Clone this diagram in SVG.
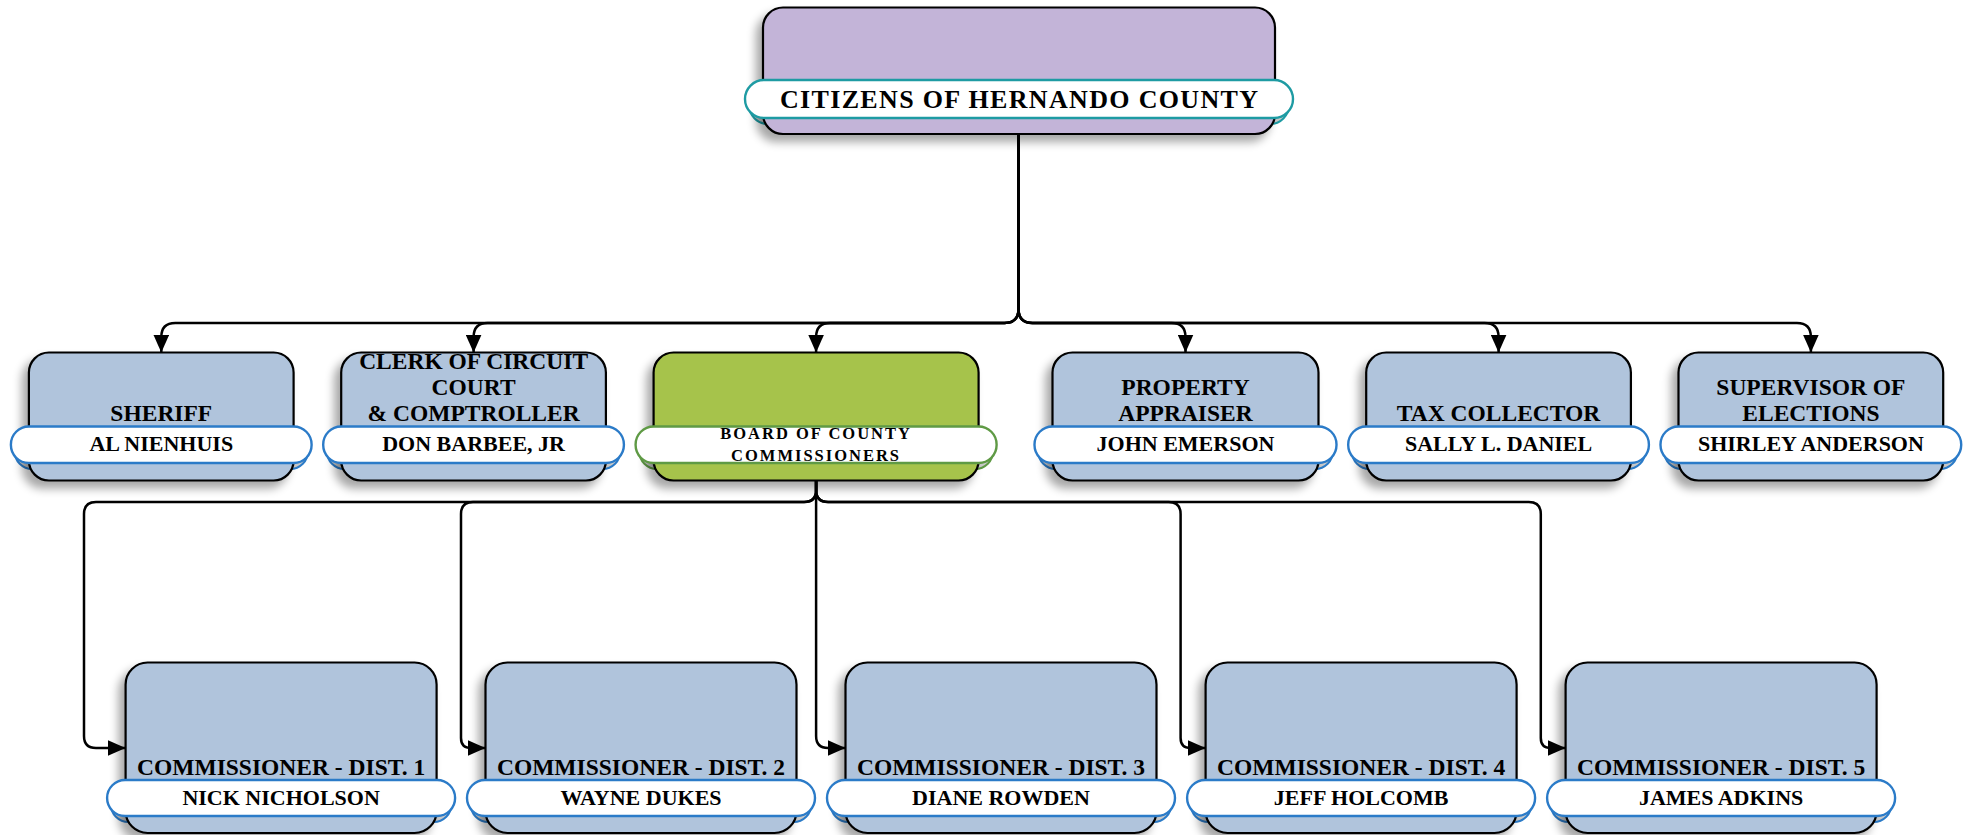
<svg xmlns="http://www.w3.org/2000/svg" width="1967" height="835" viewBox="0 0 1967 835">
<defs>
<style>
.box{stroke:#000;stroke-width:2.2}
.blue{fill:#b0c4dc}
.purple{fill:#c3b4d8}
.green{fill:#a6c34b}
.pill{fill:#fff;stroke-width:2.4}
.back{fill:#c9c9c9;stroke-width:2}
.pb{stroke:#2b7bc8}
.pt{stroke:#1e9ba3}
.pg{stroke:#5f9a45}
text{font-family:"Liberation Serif","DejaVu Serif",serif;font-weight:bold;fill:#000;text-anchor:middle}
.t{font-size:23.5px}
.n{font-size:22px}
.top{font-size:26px}
.bd{font-size:16.5px;letter-spacing:2px}
.conn{fill:none;stroke:#000;stroke-width:2.5}
</style>
<filter id="sh" x="-20%" y="-20%" width="140%" height="150%">
<feGaussianBlur in="SourceAlpha" stdDeviation="5"/>
<feOffset dx="-6" dy="7" result="b"/>
<feComponentTransfer><feFuncA type="linear" slope="0.35"/></feComponentTransfer>
<feMerge><feMergeNode/><feMergeNode in="SourceGraphic"/></feMerge>
</filter>
<marker id="arr" markerUnits="userSpaceOnUse" markerWidth="18" markerHeight="16" refX="18" refY="8" orient="auto">
<path d="M0,0 L18,8 L0,16 Z" fill="#000"/>
</marker>
</defs>

<g id="connectors">
<path class="conn" marker-end="url(#arr)" d="M1018.5,134 V309 Q1018.5,323 1004.5,323 H175.3 Q161.3,323 161.3,337 V352.5"/>
<path class="conn" marker-end="url(#arr)" d="M1018.5,134 V309 Q1018.5,323 1004.5,323 H487.6 Q473.6,323 473.6,337 V352.5"/>
<path class="conn" marker-end="url(#arr)" d="M1018.5,134 V309 Q1018.5,323 1004.5,323 H830.1 Q816.1,323 816.1,337 V352.5"/>
<path class="conn" marker-end="url(#arr)" d="M1018.5,134 V309 Q1018.5,323 1032.5,323 H1171.5 Q1185.5,323 1185.5,337 V352.5"/>
<path class="conn" marker-end="url(#arr)" d="M1018.5,134 V309 Q1018.5,323 1032.5,323 H1484.6 Q1498.6,323 1498.6,337 V352.5"/>
<path class="conn" marker-end="url(#arr)" d="M1018.5,134 V309 Q1018.5,323 1032.5,323 H1796.9 Q1810.9,323 1810.9,337 V352.5"/>

<path class="conn" marker-end="url(#arr)" d="M816.1,480.5 V490 Q816.1,502 804.1,502 H96 Q84,502 84,514 V736 Q84,748 96,748 H125.6"/>
<path class="conn" marker-end="url(#arr)" d="M816.1,480.5 V490 Q816.1,502 804.1,502 H473 Q461,502 461,514 V738 Q461,748 471,748 H485.5"/>
<path class="conn" marker-end="url(#arr)" d="M816.1,480.5 V736 Q816.1,748 828.1,748 H845.5"/>
<path class="conn" marker-end="url(#arr)" d="M816.1,480.5 V490 Q816.1,502 828.1,502 H1168.6 Q1180.6,502 1180.6,514 V738 Q1180.6,748 1190.6,748 H1205.6"/>
<path class="conn" marker-end="url(#arr)" d="M816.1,480.5 V490 Q816.1,502 828.1,502 H1528.8 Q1540.8,502 1540.8,514 V738 Q1540.8,748 1550.8,748 H1565.6"/>
</g>

<g id="citizens">
<rect class="back pt" x="749" y="86" width="540" height="38" rx="19"/>
<rect class="box purple" filter="url(#sh)" x="763" y="7.5" width="512" height="126.5" rx="20"/>
<rect class="pill pt" x="745" y="80" width="548" height="38" rx="19"/>
<text class="top" x="1019" y="108" textLength="478" lengthAdjust="spacing">CITIZENS OF HERNANDO COUNTY</text>
</g>

<g id="sheriff">
<rect class="back pb" x="14.4" y="432.5" width="293.7" height="36.5" rx="18"/>
<rect class="box blue" filter="url(#sh)" x="28.9" y="352.5" width="264.7" height="128" rx="20"/>
<rect class="pill pb" x="10.9" y="426.5" width="300.7" height="36.5" rx="18"/>
<text class="t" x="161.3" y="420.7">SHERIFF</text>
<text class="n" x="161.3" y="451">AL NIENHUIS</text>
</g>

<g id="clerk">
<rect class="back pb" x="326.7" y="432.5" width="293.7" height="36.5" rx="18"/>
<rect class="box blue" filter="url(#sh)" x="341.2" y="352.5" width="264.7" height="128" rx="20"/>
<rect class="pill pb" x="323.2" y="426.5" width="300.7" height="36.5" rx="18"/>
<text class="t" x="473.6" y="369.3">CLERK OF CIRCUIT</text>
<text class="t" x="473.6" y="395">COURT</text>
<text class="t" x="473.6" y="420.7">&amp; COMPTROLLER</text>
<text class="n" x="473.6" y="451">DON BARBEE, JR</text>
</g>

<g id="board">
<rect class="back pg" x="639.1" y="432.5" width="354" height="36.5" rx="18"/>
<rect class="box green" filter="url(#sh)" x="653.6" y="352.5" width="325" height="128" rx="20"/>
<rect class="pill pg" x="635.6" y="426.5" width="361" height="36.5" rx="18"/>
<text class="bd" x="816.1" y="439.3">BOARD OF COUNTY</text>
<text class="bd" x="816.1" y="460.7">COMMISSIONERS</text>
</g>

<g id="property">
<rect class="back pb" x="1038" y="432.5" width="295" height="36.5" rx="18"/>
<rect class="box blue" filter="url(#sh)" x="1052.5" y="352.5" width="266" height="128" rx="20"/>
<rect class="pill pb" x="1034.5" y="426.5" width="302" height="36.5" rx="18"/>
<text class="t" x="1185.5" y="395">PROPERTY</text>
<text class="t" x="1185.5" y="420.7">APPRAISER</text>
<text class="n" x="1185.5" y="451">JOHN EMERSON</text>
</g>

<g id="tax">
<rect class="back pb" x="1351.7" y="432.5" width="293.7" height="36.5" rx="18"/>
<rect class="box blue" filter="url(#sh)" x="1366.2" y="352.5" width="264.7" height="128" rx="20"/>
<rect class="pill pb" x="1348.2" y="426.5" width="300.7" height="36.5" rx="18"/>
<text class="t" x="1498.6" y="420.7">TAX COLLECTOR</text>
<text class="n" x="1498.6" y="451">SALLY L. DANIEL</text>
</g>

<g id="supervisor">
<rect class="back pb" x="1664" y="432.5" width="293.7" height="36.5" rx="18"/>
<rect class="box blue" filter="url(#sh)" x="1678.5" y="352.5" width="264.7" height="128" rx="20"/>
<rect class="pill pb" x="1660.5" y="426.5" width="300.7" height="36.5" rx="18"/>
<text class="t" x="1810.9" y="395">SUPERVISOR OF</text>
<text class="t" x="1810.9" y="420.7">ELECTIONS</text>
<text class="n" x="1810.9" y="451">SHIRLEY ANDERSON</text>
</g>

<g id="comm1">
<rect class="back pb" x="110.6" y="786" width="341" height="36" rx="18"/>
<rect class="box blue" filter="url(#sh)" x="125.6" y="662.5" width="311" height="170.5" rx="22"/>
<rect class="pill pb" x="107.1" y="780" width="348" height="36" rx="18"/>
<text class="t" x="281.1" y="775">COMMISSIONER - DIST. 1</text>
<text class="n" x="281.1" y="805">NICK NICHOLSON</text>
</g>

<g id="comm2">
<rect class="back pb" x="470.5" y="786" width="341" height="36" rx="18"/>
<rect class="box blue" filter="url(#sh)" x="485.5" y="662.5" width="311" height="170.5" rx="22"/>
<rect class="pill pb" x="467" y="780" width="348" height="36" rx="18"/>
<text class="t" x="641" y="775">COMMISSIONER - DIST. 2</text>
<text class="n" x="641" y="805">WAYNE DUKES</text>
</g>

<g id="comm3">
<rect class="back pb" x="830.5" y="786" width="341" height="36" rx="18"/>
<rect class="box blue" filter="url(#sh)" x="845.5" y="662.5" width="311" height="170.5" rx="22"/>
<rect class="pill pb" x="827" y="780" width="348" height="36" rx="18"/>
<text class="t" x="1001" y="775">COMMISSIONER - DIST. 3</text>
<text class="n" x="1001" y="805">DIANE ROWDEN</text>
</g>

<g id="comm4">
<rect class="back pb" x="1190.6" y="786" width="341" height="36" rx="18"/>
<rect class="box blue" filter="url(#sh)" x="1205.6" y="662.5" width="311" height="170.5" rx="22"/>
<rect class="pill pb" x="1187.1" y="780" width="348" height="36" rx="18"/>
<text class="t" x="1361.1" y="775">COMMISSIONER - DIST. 4</text>
<text class="n" x="1361.1" y="805">JEFF HOLCOMB</text>
</g>

<g id="comm5">
<rect class="back pb" x="1550.6" y="786" width="341" height="36" rx="18"/>
<rect class="box blue" filter="url(#sh)" x="1565.6" y="662.5" width="311" height="170.5" rx="22"/>
<rect class="pill pb" x="1547.1" y="780" width="348" height="36" rx="18"/>
<text class="t" x="1721.1" y="775">COMMISSIONER - DIST. 5</text>
<text class="n" x="1721.1" y="805">JAMES ADKINS</text>
</g>
</svg>
